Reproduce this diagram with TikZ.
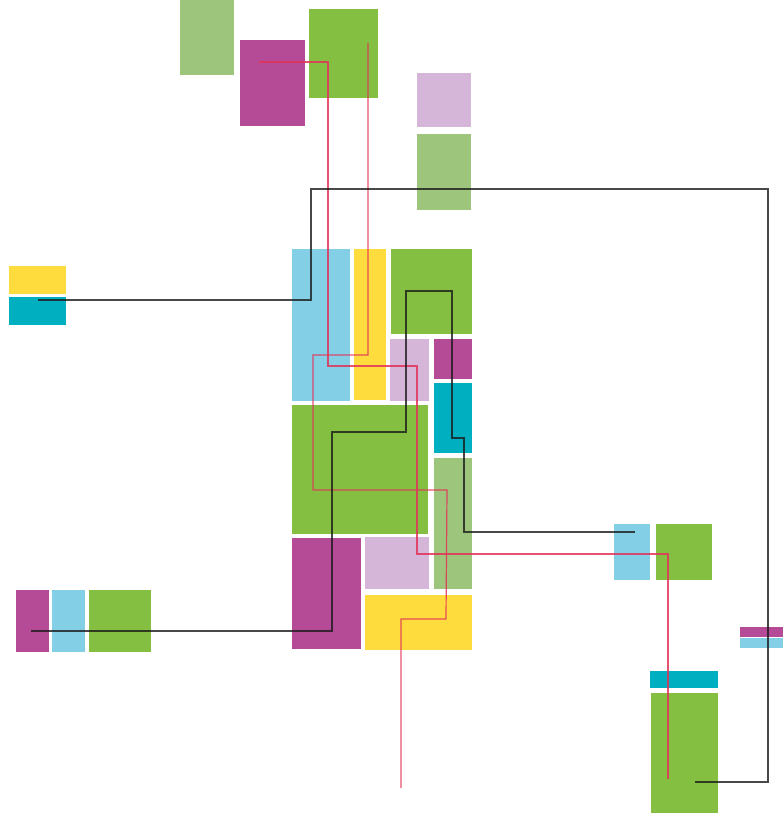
\documentclass[tikz,border=0pt]{standalone}
\usepackage{xcolor}
\definecolor{leaf-green}{HTML}{84BF41}
\definecolor{sage-green}{HTML}{9DC57B}
\definecolor{plum}{HTML}{B54B96}
\definecolor{lilac}{HTML}{D5B6D8}
\definecolor{sky}{HTML}{83D0E6}
\definecolor{sun}{HTML}{FEDC3D}
\definecolor{teal-blue}{HTML}{00B0C1}
\definecolor{rose}{HTML}{E3325A}
\definecolor{ink}{HTML}{1A1A1A}

\begin{document}
\begin{tikzpicture}[x=1pt, y=-1pt,
    redline/.style={draw=rose, line width=1.2pt, opacity=0.85},
    blackline/.style={draw=ink, line width=1.2pt, opacity=0.8}]
    \useasboundingbox (0, 0) rectangle (783, 823);

    % top cluster
    \fill[sage-green] (180, 0) rectangle (234, 75);
    \fill[plum] (240, 40) rectangle (305, 126);
    \fill[leaf-green] (309, 9) rectangle (378, 98);
    \fill[lilac] (417, 73) rectangle (471, 127);
    \fill[sage-green] (417, 134) rectangle (471, 210);

    % left pairs
    \fill[sun] (9, 266) rectangle (66, 294);
    \fill[teal-blue] (9, 297) rectangle (66, 325);
    \fill[plum] (16, 590) rectangle (49, 652);
    \fill[sky] (52, 590) rectangle (85, 652);
    \fill[leaf-green] (89, 590) rectangle (151, 652);

    % central block
    \fill[sky] (292, 249) rectangle (350, 401);
    \fill[sun] (354, 249) rectangle (386, 400);
    \fill[leaf-green] (391, 249) rectangle (472, 334);
    \fill[lilac] (390, 339) rectangle (429, 401);
    \fill[plum] (434, 339) rectangle (472, 379);
    \fill[teal-blue] (434, 383) rectangle (472, 453);
    \fill[leaf-green] (292, 405) rectangle (428, 534);
    \fill[sage-green] (434, 458) rectangle (472, 589);
    \fill[plum] (292, 538) rectangle (361, 649);
    \fill[lilac] (365, 537) rectangle (429, 589);
    \fill[sun] (365, 595) rectangle (472, 650);

    % right side
    \fill[sky] (614, 524) rectangle (650, 580);
    \fill[leaf-green] (656, 524) rectangle (712, 580);
    \fill[plum] (740, 627) rectangle (783, 637);
    \fill[sky] (740, 638) rectangle (783, 648);
    \fill[teal-blue] (650, 671) rectangle (718, 688);
    \fill[leaf-green] (651, 693) rectangle (718, 813);

    % red lines
    \draw[redline] (259, 62) -- (328, 62) -- (328, 366) -- (417, 366)
      -- (417, 554) -- (668, 554) -- (668, 779);
    \draw[redline] (368, 43) -- (368, 355) -- (313, 355) -- (313, 490)
      -- (447, 490) -- (446, 619) -- (401, 619) -- (401, 788);

    % black lines
    \draw[blackline] (38, 300) -- (311, 300) -- (311, 189) -- (768, 189)
      -- (768, 782) -- (695, 782);
    \draw[blackline] (31, 631) -- (332, 631) -- (332, 432) -- (406, 432)
      -- (406, 291) -- (452, 291) -- (452, 438) -- (464, 438)
      -- (464, 532) -- (635, 532);
  \end{tikzpicture}
\end{document}
